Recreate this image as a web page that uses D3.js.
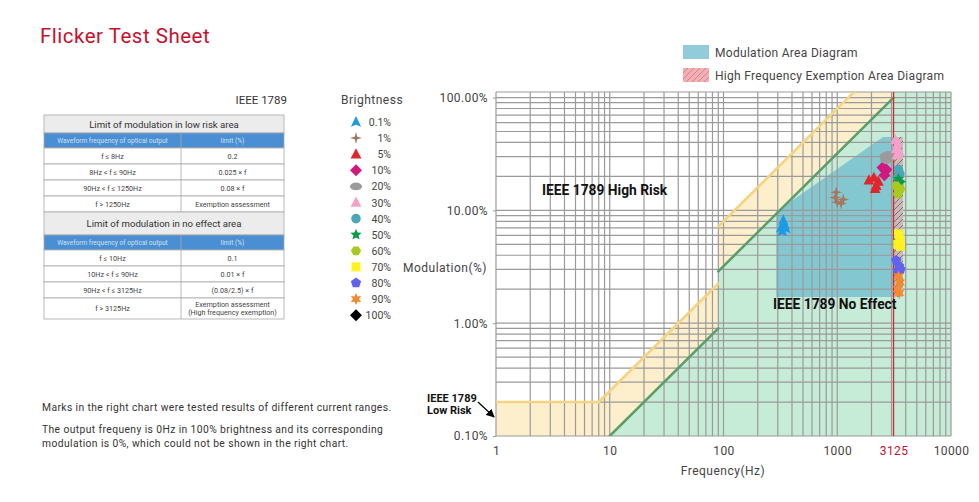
<!DOCTYPE html>
<html>
<head>
<meta charset="utf-8">
<script src="https://cdn.jsdelivr.net/npm/d3@7"></script>
<style>
body { margin: 0; background: #fff; }
svg text { font-family: Roboto, "DejaVu Sans", sans-serif; }
</style>
</head>
<body>
<div id="body"></div>
<script>
// ---- data ----
var freqTicks = [1, 10, 100, 1000, 3125, 10000];
var modTicks = [0.1, 1, 10, 100];
var brightness = ["0.1%", "1%", "5%", "10%", "20%", "30%", "40%", "50%", "60%", "70%", "80%", "90%", "100%"];

// IEEE 1789 limit lines (frequency Hz, modulation %)
var lowRiskFreq = [1, 8, 90, 90, 1250, 1400];
var lowRiskMod = [0.2, 0.2, 2.25, 7.2, 100, 112];
var noEffectFreq = [10, 90, 90, 3125, 3125];
var noEffectMod = [0.1, 0.9, 2.88, 100, 112];

// modulation area + high frequency exemption area
var areaFreq = [290, 290, 2525, 3125, 3125];
var areaMod = [1.71, 9.7, 44.7, 44.7, 1.71];
var exemptFreq = [3125, 3785];
var exemptMod = [1.71, 44.7];

// measured points per brightness level [freq, modulation]
var b0_1 = [[320, 7.0], [335, 8.2], [345, 7.5], [328, 6.5], [352, 6.9]];
var b1 = [[980, 14.5], [960, 13], [1000, 11.8], [1130, 12.5], [1080, 11.5]];
var b5 = [[1900, 18.5], [2100, 19.5], [2200, 16.5], [2300, 18], [2150, 15.5]];
var b10 = [[2500, 24], [2650, 22.5], [2600, 20.5], [2700, 23]];
var b20 = [[2650, 30], [2800, 31], [2700, 28], [2900, 29.5]];
var b30 = [[3250, 42], [3400, 39], [3300, 35], [3500, 33], [3350, 31]];
var b40 = [[3450, 23], [3550, 21], [3400, 19.5]];
var b50 = [[3450, 19], [3600, 17.5], [3500, 18]];
var b60 = [[3300, 16.5], [3500, 15], [3400, 14], [3600, 15.5]];
var b70 = [[3450, 6.2], [3550, 5.5], [3400, 5], [3600, 4.8]];
var b80 = [[3300, 3.6], [3500, 3.2], [3400, 2.9], [3600, 3.0]];
var b90 = [[3450, 2.6], [3550, 2.3], [3400, 2.0], [3500, 1.85]];
var b100 = []; // 0Hz, not shown
var series = [b0_1, b1, b5, b10, b20, b30, b40, b50, b60, b70, b80, b90, b100];

// IEEE 1789 table
var lowRiskRows = [["f ≤ 8Hz", "0.2"], ["8Hz < f ≤ 90Hz", "0.025 × f"],
  ["90Hz < f ≤ 1250Hz", "0.08 × f"], ["f > 1250Hz", "Exemption assessment"]];
var noEffectRows = [["f ≤ 10Hz", "0.1"], ["10Hz < f ≤ 90Hz", "0.01 × f"],
  ["90Hz < f ≤ 3125Hz", "(0.08/2.5) × f"], ["f > 3125Hz", "Exemption assessment|(High frequency exemption)"]];

// ---- setup ----
var W = 979, H = 502;
var svg = d3.select("#body").append("svg")
  .attr("width", W).attr("height", H);

var markColor = d3.scaleOrdinal().domain(brightness)
  .range(["#1d9be2", "#a4785c", "#e0262c", "#d4177f", "#9b9b9b", "#f5a2cb", "#4ba6b8",
          "#0b9a4c", "#a9c91f", "#fff21e", "#6262f2", "#f58a2c", "#000000"]);
var markShape = d3.scaleOrdinal().domain(brightness)
  .range(["arrow", "star4", "tri", "diamond", "ellipse", "tri", "circle",
          "star5", "hex", "square", "pent", "star6", "diamond"]);

function poly(n, r, rot) {
  var p = [];
  for (var i = 0; i < n; i++) {
    var a = rot + i * 2 * Math.PI / n;
    p.push([r * Math.sin(a), -r * Math.cos(a)]);
  }
  return "M" + p.join("L") + "Z";
}
function star(n, r, ri) {
  var p = [];
  for (var i = 0; i < 2 * n; i++) {
    var a = i * Math.PI / n, rr = i % 2 ? ri : r;
    p.push([rr * Math.sin(a), -rr * Math.cos(a)]);
  }
  return "M" + p.join("L") + "Z";
}
function shapePath(kind, r) {
  switch (kind) {
    case "arrow": return "M0," + (-r) + "L" + (r * 0.85) + "," + (r * 0.8) + "L0," + (r * 0.45) + "L" + (-r * 0.85) + "," + (r * 0.8) + "Z";
    case "tri": return "M0," + (-r) + "L" + (r * 0.9) + "," + (r * 0.7) + "L" + (-r * 0.9) + "," + (r * 0.7) + "Z";
    case "star4": return star(4, r, r * 0.3);
    case "star5": return star(5, r, r * 0.45);
    case "star6": return star(6, r, r * 0.5);
    case "diamond": return poly(4, r, 0);
    case "square": return "M" + (-r * 0.75) + "," + (-r * 0.75) + "h" + (r * 1.5) + "v" + (r * 1.5) + "h" + (-r * 1.5) + "Z";
    case "hex": return poly(6, r * 0.85, Math.PI / 6);
    case "pent": return poly(5, r * 0.9, 0);
    case "circle": return d3.arc()({innerRadius: 0, outerRadius: r * 0.8, startAngle: 0, endAngle: 2 * Math.PI});
    case "ellipse": return "M" + (-r) + ",0a" + r + "," + (r * 0.65) + " 0 1,0 " + (2 * r) + ",0a" + r + "," + (r * 0.65) + " 0 1,0 " + (-2 * r) + ",0Z";
  }
}

// ---- title ----
svg.append("text").attr("x", 40).attr("y", 43).attr("letter-spacing", 0.5)
  .attr("fill", "#c8102e").attr("font-size", 20.5).text("Flicker Test Sheet");

// ---- table ----
var tx0 = 44, tx1 = 181, tx2 = 284;
var tableRows = [{t: "title", a: "Limit of modulation in low risk area", h: 18}, {t: "head", h: 15}]
  .concat(lowRiskRows.map(function(r) { return {t: "row", a: r[0], b: r[1], h: 16}; }))
  .concat([{t: "title", a: "Limit of modulation in no effect area", h: 23}, {t: "head", h: 15}])
  .concat(noEffectRows.map(function(r, i) { return {t: "row", a: r[0], b: r[1], h: i == 3 ? 21 : 16}; }));
var ty = 115;
tableRows.forEach(function(r) { r.y = ty; ty += r.h; });

svg.append("text").attr("x", 287).attr("y", 104).attr("text-anchor", "end")
  .attr("font-size", 11.5).attr("fill", "#333").text("IEEE 1789");

var tg = svg.append("g");
tableRows.forEach(function(r) {
  var bg = r.t == "title" ? "#ececec" : r.t == "head" ? "#4a8fd3" : "#fff";
  tg.append("rect").attr("x", tx0).attr("y", r.y).attr("width", tx2 - tx0).attr("height", r.h)
    .attr("fill", bg).attr("stroke", "#a8a8a8").attr("stroke-width", 0.8);
  if (r.t == "title") {
    tg.append("text").attr("x", (tx0 + tx2) / 2).attr("y", r.y + r.h / 2 + 3.5)
      .attr("text-anchor", "middle").attr("font-size", 9.6).attr("fill", "#333").text(r.a);
  } else {
    var cells = r.t == "head" ? ["Waveform frequency of optical output", "limit (%)"] : [r.a, r.b];
    tg.append("line").attr("x1", tx1).attr("x2", tx1).attr("y1", r.y).attr("y2", r.y + r.h)
      .attr("stroke", "#a8a8a8").attr("stroke-width", 0.8);
    cells.forEach(function(c, i) {
      var cx = i == 0 ? (tx0 + tx1) / 2 : (tx1 + tx2) / 2;
      var lines = c.split("|");
      lines.forEach(function(l, j) {
        tg.append("text").attr("x", cx)
          .attr("y", r.y + r.h / 2 + 2.6 + (j - (lines.length - 1) / 2) * 7.5)
          .attr("text-anchor", "middle").attr("font-size", r.t == "head" ? 6.6 : 7.2)
          .attr("fill", r.t == "head" ? "#cfe0f3" : "#444").text(l);
      });
    });
  }
});

// ---- brightness legend ----
svg.append("text").attr("x", 341).attr("y", 104).attr("font-size", 12)
  .attr("fill", "#444").attr("letter-spacing", 0.5).text("Brightness");
var lg = svg.append("g").selectAll("g").data(brightness).enter().append("g")
  .attr("transform", function(d, i) { return "translate(0," + (122 + i * 16.1) + ")"; });
lg.append("path").attr("transform", "translate(356,0)")
  .attr("d", function(d) { return shapePath(markShape(d), 6); })
  .attr("fill", function(d) { return markColor(d); });
lg.append("text").attr("x", 391).attr("y", 4).attr("text-anchor", "end")
  .attr("font-size", 10.5).attr("fill", "#444").text(function(d) { return d; });

// ---- notes ----
var notes = ["Marks in the right chart were tested results of different current ranges.", "",
  "The output frequeny is 0Hz in 100% brightness and its corresponding",
  "modulation is 0%, which could not be shown in the right chart."];
svg.append("g").selectAll("text").data(notes).enter().append("text")
  .attr("x", 42).attr("y", function(d, i) { return 411 + i * 10.5 + (i > 1 ? 1 : 0) + (i > 2 ? 3 : 0); })
  .attr("font-size", 10.3).attr("letter-spacing", 0.4).attr("fill", "#333").text(function(d) { return d; });

// ---- chart ----
var x = d3.scaleLog().domain([1, 10000]).range([496, 951]);
var y = d3.scaleLog().domain([0.1, 112]).range([436, 92]);
var fTop = 112;

var defs = svg.append("defs");
defs.append("clipPath").attr("id", "plot").append("rect")
  .attr("x", x(1)).attr("y", y(fTop)).attr("width", x(10000) - x(1)).attr("height", y(0.1) - y(fTop));
function hatch(id, bg, lc) {
  var p = defs.append("pattern").attr("id", id).attr("patternUnits", "userSpaceOnUse")
    .attr("width", 6).attr("height", 6);
  p.append("rect").attr("width", 6).attr("height", 6).attr("fill", bg);
  p.append("path").attr("d", "M-1,7L7,-1M-1,1L1,-1M5,7L7,5").attr("stroke", lc).attr("stroke-width", 0.9);
}
hatch("hatchChart", "#cdb7b7", "#6d6d6d");
hatch("hatchLegend", "#f3b0b4", "#d27c83");

var plot = svg.append("g").attr("clip-path", "url(#plot)");
var line = d3.line().x(function(d) { return x(d[0]); }).y(function(d) { return y(d[1]); });
var lowPts = d3.zip(lowRiskFreq, lowRiskMod);
var nePts = d3.zip(noEffectFreq, noEffectMod);

plot.append("path").attr("fill", "#fdefcb")
  .attr("d", line(lowPts.concat([[10000, fTop], [10000, 0.1], [1, 0.1]])) + "Z");
plot.append("path").attr("fill", "#c6ebd7")
  .attr("d", line(nePts.concat([[10000, fTop], [10000, 0.1]])) + "Z");
plot.append("path").attr("fill", "#6cbccf").attr("fill-opacity", 0.75)
  .attr("d", line(d3.zip(areaFreq, areaMod)) + "Z");

// log grid
var gx = [], gy = [];
for (var k = 0; k < 4; k++) for (var m = 1; m < 10; m++) gx.push(m * Math.pow(10, k));
gx.push(10000);
for (var k2 = -1; k2 < 2; k2++) for (var m2 = 1; m2 < 10; m2++) gy.push(m2 * Math.pow(10, k2));
gy.push(100, fTop);
var grid = svg.append("g").attr("stroke", "#9a9a9a").attr("stroke-width", 1.2);
grid.selectAll(".gx").data(gx).enter().append("line")
  .attr("x1", function(d) { return x(d); }).attr("x2", function(d) { return x(d); })
  .attr("y1", y(0.1)).attr("y2", y(fTop));
grid.selectAll(".gy").data(gy).enter().append("line")
  .attr("y1", function(d) { return y(d); }).attr("y2", function(d) { return y(d); })
  .attr("x1", x(1)).attr("x2", x(10000));

// exemption area
svg.append("rect").attr("x", x(exemptFreq[0])).attr("y", y(exemptMod[1]))
  .attr("width", x(exemptFreq[1]) - x(exemptFreq[0])).attr("height", y(exemptMod[0]) - y(exemptMod[1]))
  .attr("fill", "url(#hatchChart)");

// limit lines, drawn piecewise (the jumps at 90Hz are fill edges only)
function segments(pts) {
  var s = [];
  for (var i = 1; i < pts.length; i++) if (pts[i][0] != pts[i - 1][0]) s.push([pts[i - 1], pts[i]]);
  return s;
}
var lines = svg.append("g").attr("clip-path", "url(#plot)").attr("fill", "none")
  .attr("stroke-width", 2.6).attr("stroke-linecap", "round");
lines.selectAll(".lr").data(segments(lowPts)).enter().append("path")
  .attr("d", line).attr("stroke", "#f6d47f");
lines.selectAll(".ne").data(segments(nePts)).enter().append("path")
  .attr("d", line).attr("stroke", "#5c9e6b");

// 3125 Hz line
svg.append("line").attr("x1", x(3125)).attr("x2", x(3125)).attr("y1", y(0.1)).attr("y2", y(fTop))
  .attr("stroke", "#d8262b").attr("stroke-width", 1.3);

// axes
var bottomAxis = d3.axisBottom(x).tickValues(freqTicks).tickSize(0).tickPadding(10)
  .tickFormat(function(d) { return d; });
var xa = svg.append("g").attr("transform", "translate(0," + y(0.1) + ")").call(bottomAxis);
xa.select(".domain").remove();
xa.selectAll("text").attr("font-size", 12).attr("font-family", "Roboto, sans-serif")
  .attr("fill", function(d) { return d == 3125 ? "#c8102e" : "#444"; }).attr("letter-spacing", 0.4);

var leftAxis = d3.axisLeft(y).tickValues(modTicks).tickSize(3).tickPadding(5)
  .tickFormat(function(d) { return d.toFixed(2) + "%"; });
var ya = svg.append("g").attr("transform", "translate(" + x(1) + ",0)").call(leftAxis);
ya.select(".domain").remove();
ya.selectAll("line").attr("stroke", "#9a9a9a");
ya.selectAll("text").attr("font-size", 12).attr("font-family", "Roboto, sans-serif")
  .attr("fill", "#444").attr("letter-spacing", 0.4);

svg.append("text").attr("x", 487).attr("y", 272).attr("text-anchor", "end")
  .attr("font-size", 12).attr("fill", "#444").attr("letter-spacing", 0.5).text("Modulation(%)");
svg.append("text").attr("x", 723).attr("y", 475).attr("text-anchor", "middle")
  .attr("font-size", 12).attr("fill", "#444").attr("letter-spacing", 0.5).text("Frequency(Hz)");

// measured marks
var pts = [];
series.forEach(function(s, i) { s.forEach(function(p) { pts.push({b: brightness[i], f: p[0], m: p[1]}); }); });
svg.append("g").selectAll("path").data(pts).enter().append("path")
  .attr("transform", function(d) { return "translate(" + x(d.f) + "," + y(d.m) + ")"; })
  .attr("d", function(d) { return shapePath(markShape(d.b), 6); })
  .attr("fill", function(d) { return markColor(d.b); });

// zone labels
var bold = "'Liberation Sans', Arial, sans-serif";
svg.append("text").attr("x", 542).attr("y", 195).attr("font-family", bold).attr("font-weight", "bold")
  .attr("font-size", 13.8).attr("fill", "#111").text("IEEE 1789 High Risk");
svg.append("text").attr("x", 773).attr("y", 309).attr("font-family", bold).attr("font-weight", "bold")
  .attr("font-size", 13.8).attr("fill", "#111").text("IEEE 1789 No Effect");
svg.append("text").attr("x", 427).attr("y", 401.5).attr("font-family", bold).attr("font-weight", "bold")
  .attr("font-size", 11).attr("fill", "#111").text("IEEE 1789");
svg.append("text").attr("x", 427).attr("y", 414).attr("font-family", bold).attr("font-weight", "bold")
  .attr("font-size", 11).attr("fill", "#111").text("Low Risk");
defs.append("marker").attr("id", "arr").attr("viewBox", "0 0 10 10").attr("refX", 9).attr("refY", 5)
  .attr("markerWidth", 7).attr("markerHeight", 7).attr("orient", "auto")
  .append("path").attr("d", "M0,0L10,5L0,10Z").attr("fill", "#000");
svg.append("line").attr("x1", 478).attr("y1", 402).attr("x2", 494).attr("y2", 417)
  .attr("stroke", "#000").attr("stroke-width", 1.2).attr("marker-end", "url(#arr)");

// area legend
svg.append("rect").attr("x", 683).attr("y", 45).attr("width", 26).attr("height", 14).attr("fill", "#92cbd9");
svg.append("text").attr("x", 715).attr("y", 57).attr("font-size", 12).attr("fill", "#444")
  .attr("letter-spacing", 0.3).text("Modulation Area Diagram");
svg.append("rect").attr("x", 683).attr("y", 68).attr("width", 26).attr("height", 14).attr("fill", "url(#hatchLegend)");
svg.append("text").attr("x", 715).attr("y", 80).attr("font-size", 12).attr("fill", "#444")
  .attr("letter-spacing", 0.3).text("High Frequency Exemption Area Diagram");
</script>
</body>
</html>
